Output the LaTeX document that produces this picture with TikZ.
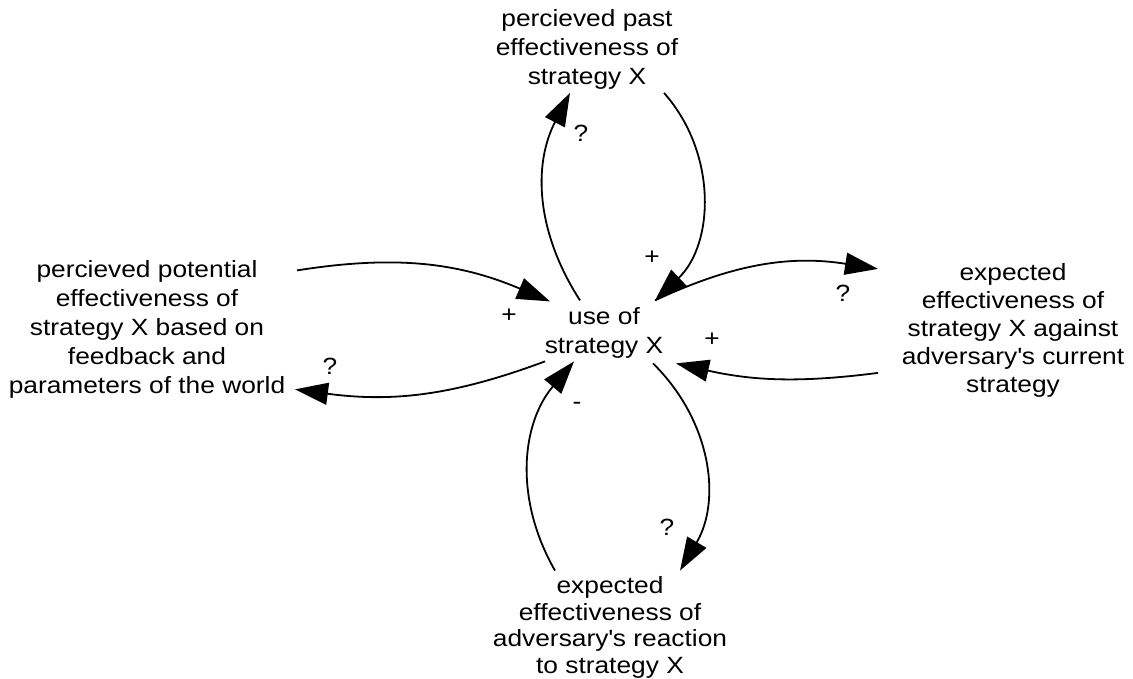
\documentclass[tikz,border=0pt]{standalone}
\usepackage{fontspec}
\setmainfont{Liberation Sans}[FakeStretch=1.12]
\usetikzlibrary{arrows.meta,calc}
\begin{document}
\begin{tikzpicture}[x=1pt,y=-1pt,
  var/.style={align=center, inner sep=0pt, font=\fontsize{23.5}{29}\selectfont},
  sign/.style={inner sep=0pt, font=\fontsize{23.5}{29}\selectfont},
  link/.style={line width=1.8pt, -{Triangle[length=33pt,width=22pt]}},
]
\useasboundingbox (0,0) rectangle (1133,679);

% variables
\node[var] (c) at (604,333.4) {use of\\strategy X};
\node[var] (t) at (587,49.9) {percieved past\\effectiveness of\\strategy X};
\node[var, font=\fontsize{23.5}{28}\selectfont] (r) at (1013,330.9)
  {expected\\effectiveness of\\strategy X against\\adversary\textquotesingle s current\\strategy};
\node[var] (l) at (147,329.4)
  {percieved potential\\effectiveness of\\strategy X based on\\feedback and\\parameters of the world};
\node[var, font=\fontsize{23.5}{26.5}\selectfont] (b) at (610,627.6)
  {expected\\effectiveness of\\adversary\textquotesingle s reaction\\to strategy X};

% causal links
\draw[link] ($(c)+(-24,-33)$) to[bend left=30] ($(t)+(-17,43)$);
\draw[link] ($(t)+(77,43)$) to[bend left=44] ($(c)+(51,-33)$);
\draw[link] ($(c)+(51,-33)$) to[bend left=17] ($(r)+(-135,-62)$);
\draw[link] ($(r)+(-135,42)$) to[bend left=10] ($(c)+(72,30)$);
\draw[link] ($(l)+(150,-59)$) to[bend left=16] ($(c)+(-54,-32)$);
\draw[link] ($(c)+(-59,28)$) to[bend left=14] ($(l)+(148,60)$);
\draw[link] ($(b)+(-55,-57)$) to[bend left=35] ($(c)+(-30,28)$);
\draw[link] ($(c)+(49,30)$) to[bend left=38] ($(b)+(70,-57)$);

% link polarities
\node[sign] (s1) at (581,133) {?};
\node[sign] (s2) at (652,258) {+};
\node[sign] (s3) at (843,293) {?};
\node[sign] (s4) at (712,340) {+};
\node[sign] (s5) at (509,316) {+};
\node[sign] (s6) at (330,366) {?};
\node[sign] (s7) at (577,406) {-};
\node[sign] (s8) at (667,527) {?};
\end{tikzpicture}
\end{document}
